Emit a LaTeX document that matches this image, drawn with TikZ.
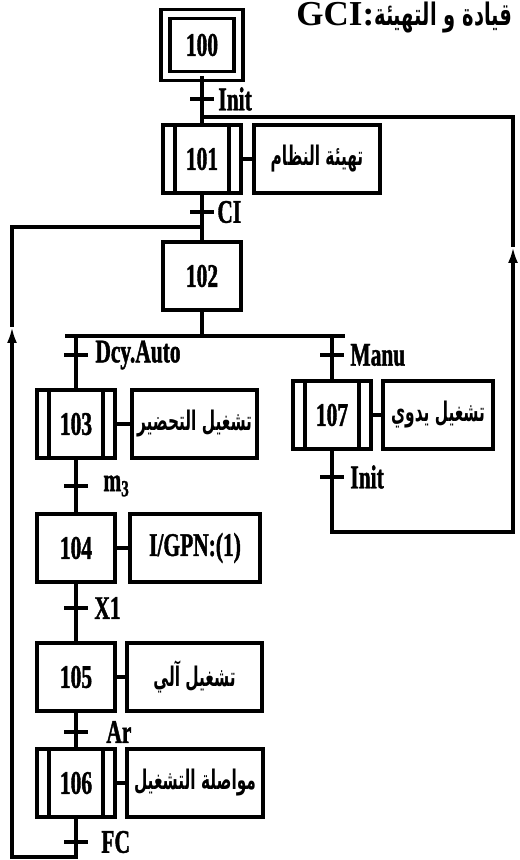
\documentclass[tikz,border=0pt]{standalone}
\usepackage{fontspec}
\setmainfont{Liberation Serif}[FakeStretch=0.65, BoldFeatures={FakeBold=1.2}]
\newfontfamily\titlefont{Liberation Serif}
\newfontfamily\arabicfont{DejaVu Sans Bold}[Script=Arabic, FakeStretch=0.57]
\newfontfamily\arabictitle{DejaVu Sans Bold}[Script=Arabic, FakeStretch=0.63]
\TeXXeTstate=1
\usetikzlibrary{arrows.meta, positioning}
\newcommand{\ar}[1]{{\arabicfont\fontsize{13.5}{15}\selectfont\beginR #1\endR}}
\tikzset{
  etape/.style={rectangle, draw, line width=1.8pt, minimum width=39pt,
    minimum height=34pt, inner sep=0pt, outer sep=0pt},
  macro/.style={etape, path picture={
    \draw[line width=1.8pt]
      ([xshift=6pt]path picture bounding box.north west) -- ([xshift=6pt]path picture bounding box.south west)
      ([xshift=-6pt]path picture bounding box.north east) -- ([xshift=-6pt]path picture bounding box.south east);}},
  initiale/.style={etape, double, double distance=2.8pt, minimum width=36.5pt, minimum height=31pt},
  action/.style={rectangle, draw, line width=1.8pt, minimum height=34pt,
    inner sep=2pt, outer sep=0pt},
  trans/.style={rectangle, fill, minimum width=12pt, minimum height=1.8pt,
    inner sep=0pt, outer sep=0pt},
  recept/.style={inner sep=0pt},
  lien/.style={line width=1.8pt},
  fleche/.style={lien, -{Latex[length=8pt,width=5pt]}}
}
\begin{document}
\begin{tikzpicture}[x=0.5pt, y=-0.5pt, every node/.style={font=\fontsize{16.5}{18}\selectfont\bfseries}]
  \useasboundingbox (0,0) rectangle (519,860);

  \node[anchor=base west, inner sep=0pt, font=\titlefont\bfseries\fontsize{17.5}{20}\selectfont] (titre) at (296,26)
    {GCI:{\arabictitle\fontsize{15.5}{17}\selectfont\beginR قيادة و التهيئة\endR}};

  % etapes
  \node[initiale] (s100) at (202,45) {100};
  \node[macro] (s101) at (202,159) {101};
  \node[etape] (s102) at (202,276) {102};
  \node[macro] (s103) at (76,424) {103};
  \node[etape] (s104) at (76,548) {104};
  \node[etape] (s105) at (76,677) {105};
  \node[macro] (s106) at (76,783) {106};
  \node[macro] (s107) at (332,415) {107};

  % actions
  \node[action, minimum width=63pt, right=6.5pt of s101] (a101) {\ar{تهيئة النظام}};
  \node[action, minimum width=62.5pt, right=8.5pt of s103] (a103) {\ar{تشغيل التحضير}};
  \node[action, minimum width=65pt, right=7.5pt of s104] (a104) {I/GPN:(1)};
  \node[action, minimum width=67.5pt, right=6pt of s105] (a105) {\ar{تشغيل آلي}};
  \node[action, minimum width=68pt, right=6pt of s106] (a106) {\ar{مواصلة التشغيل}};
  \node[action, minimum width=55pt, right=6pt of s107] (a107) {\ar{تشغيل يدوي}};

  \foreach \e in {101,103,104,105,106,107}
    \draw[lien] (s\e) -- (a\e);

  % points de renvoi
  \coordinate (divG) at (65,336);
  \coordinate (divD) at (345,336);
  \coordinate (jointD) at (202,117);
  \coordinate (jointG) at (202,227);
  \coordinate (basG) at (12,857);
  \coordinate (flecheG) at (12,327);
  \coordinate (basD) at (513,532);
  \coordinate (flecheD) at (513,247);

  \draw[lien] (s100) -- (s101);
  \draw[lien] (s101) -- (s102);
  \draw[lien] (s102) -- (s102 |- divG);
  \draw[lien] (divG) -- (divD);
  \draw[lien] (s103 |- divG) -- (s103);
  \draw[lien] (s107 |- divD) -- (s107);
  \draw[lien] (s103) -- (s104);
  \draw[lien] (s104) -- (s105);
  \draw[lien] (s105) -- (s106);

  % reprise de sequence
  \draw[fleche] (s106) |- (basG) -- (flecheG);
  \draw[lien] (flecheG) |- (jointG);
  \draw[fleche] (s107) |- (basD) -- (flecheD);
  \draw[lien] (flecheD) |- (jointD);

  % transitions
  \node[trans, label={[recept, label distance=2pt]right:Init}] (t1) at (202,99) {};
  \node[trans, label={[recept, label distance=1.5pt]right:CI}] (t2) at (202,212) {};
  \node[trans, label={[recept, label distance=3.5pt]right:Dcy.Auto}] (t3) at (76,355) {};
  \node[trans, label={[recept, label distance=7.5pt]right:m\textsubscript{3}}] (t4) at (76,486) {};
  \node[trans, label={[recept, label distance=3pt]right:X1}] (t5) at (76,608) {};
  \node[trans, label={[recept, label distance=9pt]right:Ar}] (t6) at (76,732) {};
  \node[trans, label={[recept, label distance=6.5pt]right:FC}] (t7) at (76,842) {};
  \node[trans, label={[recept, label distance=3pt]right:Manu}] (t8) at (332,355) {};
  \node[trans, label={[recept, label distance=3pt]right:Init}] (t9) at (332,477) {};
\end{tikzpicture}
\end{document}
